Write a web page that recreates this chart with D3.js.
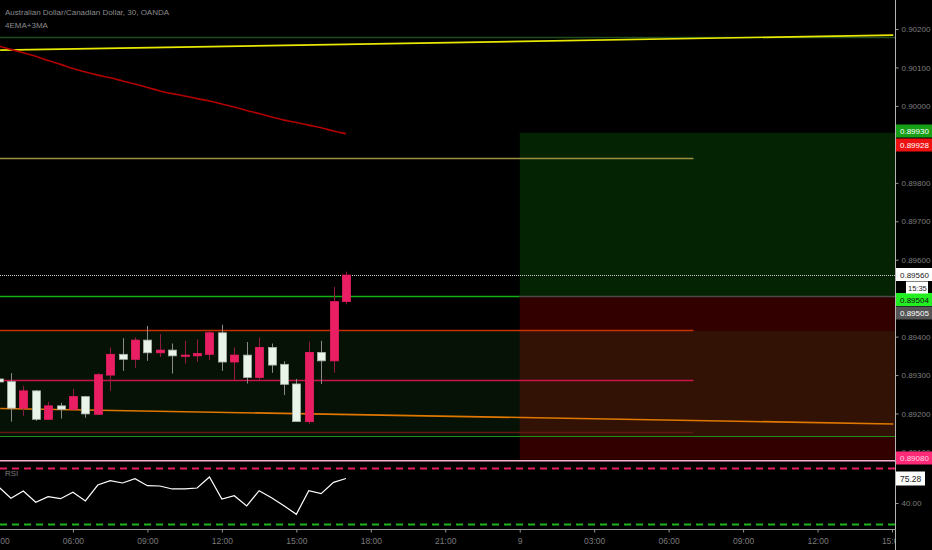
<!DOCTYPE html>
<html><head><meta charset="utf-8">
<script src="https://cdn.jsdelivr.net/npm/d3@7"></script>
<style>html,body{margin:0;padding:0;background:#000;overflow:hidden}</style>
</head><body><svg id="c" width="932" height="550"></svg>
<script>
// ---------- DATA ----------
const candleTimes = ["2018-08-08 03:00","2018-08-08 03:30","2018-08-08 04:00","2018-08-08 04:30","2018-08-08 05:00","2018-08-08 05:30","2018-08-08 06:00","2018-08-08 06:30","2018-08-08 07:00","2018-08-08 07:30","2018-08-08 08:00","2018-08-08 08:30","2018-08-08 09:00","2018-08-08 09:30","2018-08-08 10:00","2018-08-08 10:30","2018-08-08 11:00","2018-08-08 11:30","2018-08-08 12:00","2018-08-08 12:30","2018-08-08 13:00","2018-08-08 13:30","2018-08-08 14:00","2018-08-08 14:30","2018-08-08 15:00","2018-08-08 15:30","2018-08-08 16:00","2018-08-08 16:30","2018-08-08 17:00"];
const opens  = [0.89290,0.89283,0.89214,0.89259,0.89185,0.89220,0.89211,0.89244,0.89198,0.89300,0.89354,0.89341,0.89391,0.89358,0.89365,0.89350,0.89350,0.89354,0.89410,0.89334,0.89352,0.89294,0.89372,0.89328,0.89277,0.89179,0.89359,0.89337,0.89491];
const highs  = [0.89292,0.89305,0.89272,0.89261,0.89231,0.89228,0.89264,0.89246,0.89305,0.89372,0.89396,0.89398,0.89428,0.89407,0.89382,0.89389,0.89393,0.89415,0.89431,0.89372,0.89386,0.89398,0.89382,0.89336,0.89290,0.89387,0.89389,0.89529,0.89569];
const lows   = [0.89278,0.89179,0.89194,0.89181,0.89185,0.89187,0.89209,0.89189,0.89198,0.89259,0.89311,0.89319,0.89337,0.89347,0.89304,0.89330,0.89334,0.89339,0.89311,0.89287,0.89278,0.89287,0.89306,0.89248,0.89179,0.89173,0.89277,0.89306,0.89484];
const closes = [0.89282,0.89214,0.89259,0.89185,0.89220,0.89211,0.89244,0.89199,0.89301,0.89354,0.89341,0.89391,0.89358,0.89365,0.89350,0.89352,0.89356,0.89410,0.89334,0.89352,0.89294,0.89372,0.89326,0.89276,0.89179,0.89359,0.89337,0.89491,0.89560];
const rsiValues = [63.5,46.8,57.3,41.0,49.1,46.2,55.4,42.9,65.9,72.1,68.8,75.0,64.9,64.5,60.2,60.2,61.6,77.5,45.8,50.5,35.7,57.7,47.6,36.1,23.7,57.7,53.4,69.8,75.28];
const emaRed = [0.90156,0.90147,0.90138,0.90129,0.90118,0.90108,0.90097,0.90088,0.90080,0.90073,0.90065,0.90057,0.90048,0.90039,0.90032,0.90026,0.90019,0.90013,0.90005,0.89997,0.89988,0.89980,0.89971,0.89963,0.89957,0.89950,0.89943,0.89935,0.89928];
const yellowTimes = ["2018-08-08 03:04","2018-08-09 15:03"];
const yellowPrices = [0.90145,0.90184];
const orangeTimes = ["2018-08-08 03:04","2018-08-09 15:03"];
const orangePrices = [0.89213,0.89173];
const topGreenLevel = 0.90180;
const shortLevels = [0.89865,0.89417,0.89287,0.89152];   // rays ending at shortLevelEnd
const shortLevelEnd = "2018-08-09 07:00";
const zoneTop = 0.89415, zoneBottom = 0.89142;
const posStart = "2018-08-09 00:00";
const posTarget = 0.89930, posEntry = 0.89505, posStop = 0.89080;
const lastPrice = 0.89560;
const priceTicks = [0.902,0.901,0.900,0.899,0.898,0.897,0.896,0.895,0.894,0.893,0.892,0.891];
const rsiTicks = [40];
const rsiBands = [90,10];
const timeTicks = ["2018-08-08 03:00","2018-08-08 06:00","2018-08-08 09:00","2018-08-08 12:00","2018-08-08 15:00","2018-08-08 18:00","2018-08-08 21:00","2018-08-09 00:00","2018-08-09 03:00","2018-08-09 06:00","2018-08-09 09:00","2018-08-09 12:00","2018-08-09 15:00"];
const timeLabels = ["03:00","06:00","09:00","12:00","15:00","18:00","21:00","9","03:00","06:00","09:00","12:00","15:00"];
const priceTags = [
  {text:"0.89930", bg:"#17a017", fg:"#ffffff", yc:131},
  {text:"0.89928", bg:"#ee1111", fg:"#ffffff", yc:145},
  {text:"0.89560", bg:"#ffffff", fg:"#222222", yc:274.5},
  {text:"0.89504", bg:"#22ee22", fg:"#111111", yc:299.5},
  {text:"0.89505", bg:"#555555", fg:"#ffffff", yc:313},
  {text:"0.89080", bg:"#ff2a77", fg:"#ffd6e6", yc:458}
];
const countdown = "15:35";
const titleText = "Australian Dollar/Canadian Dollar, 30, OANDA";
const studyText = "4EMA+3MA";

// ---------- SETUP ----------
const parse = d3.timeParse("%Y-%m-%d %H:%M");
const svg = d3.select("#c");
const AX = 895; // right axis x
const PANE_BOTTOM = 460;
const x = d3.scaleTime()
  .domain([parse("2018-08-08 03:00"), parse("2018-08-09 15:00")])
  .range([-1.5, -1.5 + 36*24.82]);
const y = d3.scaleLinear().domain([0.891, 0.902]).range([452, 29]);
const yR = d3.scaleLinear().domain([40, 75.28]).range([503, 478.5]);

const candles = candleTimes.map((t,i)=>({t:parse(t), o:opens[i], h:highs[i], l:lows[i], c:closes[i], r:rsiValues[i], e:emaRed[i]}));

const defs = svg.append("defs");
defs.append("clipPath").attr("id","cp").append("rect").attr("x",0).attr("y",0).attr("width",AX).attr("height",PANE_BOTTOM);
defs.append("clipPath").attr("id","cr").append("rect").attr("x",0).attr("y",462).attr("width",AX).attr("height",66);
defs.append("clipPath").attr("id","ct").append("rect").attr("x",0).attr("y",529).attr("width",AX).attr("height",21);

svg.append("rect").attr("width",932).attr("height",550).attr("fill","#000");

const g = svg.append("g").attr("clip-path","url(#cp)");
const xEnd = AX;

// position tool
const px0 = x(parse(posStart));
g.append("rect").attr("x",px0).attr("y",y(posTarget)).attr("width",xEnd-px0).attr("height",y(posEntry)-y(posTarget)).attr("fill","#032303");
g.append("rect").attr("x",px0).attr("y",y(posEntry)).attr("width",xEnd-px0).attr("height",y(posStop)-y(posEntry)).attr("fill","#330000");
// zone
g.append("rect").attr("x",0).attr("y",y(zoneTop)).attr("width",xEnd).attr("height",y(zoneBottom)-y(zoneTop))
  .attr("fill","rgb(60,180,60)").attr("fill-opacity",0.1);

function hline(p, x1, x2, color, w, dash){
  const yy = Math.round(y(p))+0.5;
  const l = g.append("line").attr("x1",x1).attr("x2",x2).attr("y1",yy).attr("y2",yy).attr("stroke",color).attr("stroke-width",w);
  if(dash) l.attr("stroke-dasharray",dash);
  return l;
}
hline(topGreenLevel, 0, xEnd, "#1f4d1f", 1.5);
g.append("line").attr("x1",x(parse(yellowTimes[0]))).attr("x2",x(parse(yellowTimes[1])))
  .attr("y1",y(yellowPrices[0])).attr("y2",y(yellowPrices[1])).attr("stroke","#e8e800").attr("stroke-width",1.6);
g.append("path").datum(candles).attr("fill","none").attr("stroke","#b00000").attr("stroke-width",1.6)
  .attr("d", d3.line().x(d=>x(d.t)).y(d=>y(d.e)).curve(d3.curveMonotoneX));
const srEnd = x(parse(shortLevelEnd));
const srColors = ["#9a9040","#c83000","#c8144a","#5c1a10"];
shortLevels.forEach((p,i)=>hline(p,0,srEnd,srColors[i],1.5));
hline(zoneBottom, 0, xEnd, "#1f8f1f", 1.2);
g.append("line").attr("x1",x(parse(orangeTimes[0]))).attr("x2",x(parse(orangeTimes[1])))
  .attr("y1",y(orangePrices[0])).attr("y2",y(orangePrices[1])).attr("stroke","#e07800").attr("stroke-width",1.6);
hline(posEntry, 0, px0, "#12b012", 1.5);
hline(posEntry, px0, xEnd, "#4a4a4a", 1.5);
hline(lastPrice, 0, xEnd, "#c8c8c8", 1, "1,1");

// candles
const up = d=>d.c>=d.o;
g.selectAll("line.wick").data(candles).join("line").attr("class","wick")
  .attr("x1",d=>Math.round(x(d.t))+0.5).attr("x2",d=>Math.round(x(d.t))+0.5)
  .attr("y1",d=>y(d.h)).attr("y2",d=>y(d.l))
  .attr("stroke",d=>up(d)?"#8e1b40":"#8a8a8a").attr("stroke-width",1);
g.selectAll("rect.body").data(candles).join("rect").attr("class","body")
  .attr("x",d=>Math.round(x(d.t))-3.5).attr("width",8)
  .attr("y",d=>y(Math.max(d.o,d.c))).attr("height",d=>Math.max(1.2,Math.abs(y(d.o)-y(d.c))))
  .attr("fill",d=>up(d)?"#e91e63":"#eaf5ea")
  .attr("stroke",d=>up(d)?"#e91e63":"#a8b0a8").attr("stroke-width",0.8);

svg.append("line").attr("x1",0).attr("x2",AX).attr("y1",460.75).attr("y2",460.75).attr("stroke","#f4b0cc").attr("stroke-width",1.5);

// ---------- RSI ----------
const fontF = "Liberation Sans, Arial, sans-serif";
const gr = svg.append("g").attr("clip-path","url(#cr)");
gr.selectAll("line.band").data(rsiBands).join("line").attr("class","band")
  .attr("x1",0).attr("x2",AX).attr("y1",d=>Math.round(yR(d))+0.5).attr("y2",d=>Math.round(yR(d))+0.5)
  .attr("stroke",(d,i)=>i===0?"#e91e63":"#1db31d").attr("stroke-width",2).attr("stroke-dasharray","7,5");
gr.append("path").datum(candles).attr("fill","none").attr("stroke","#ffffff").attr("stroke-width",1.2)
  .attr("d", d3.line().x(d=>x(d.t)).y(d=>yR(d.r)));
svg.append("text").attr("x",5).attr("y",476).attr("fill","#7a7a7a").attr("font-family",fontF).attr("font-size",8).text("RSI");

// ---------- AXES ----------
svg.append("line").attr("x1",0).attr("x2",AX).attr("y1",529.5).attr("y2",529.5).attr("stroke","#9a9a9a").attr("stroke-width",1);
const gt = svg.append("g").attr("clip-path","url(#ct)").append("g").attr("transform","translate(0,529.5)")
  .call(d3.axisBottom(x).tickValues(timeTicks.map(parse)).tickFormat((d,i)=>timeLabels[i]).tickSize(3).tickPadding(5));
gt.select(".domain").remove();
gt.selectAll("line").attr("stroke","#9a9a9a");
gt.selectAll("text").attr("fill","#7a7a7a").attr("font-family",fontF).attr("font-size",8.5);

svg.append("line").attr("x1",AX+0.5).attr("x2",AX+0.5).attr("y1",0).attr("y2",550).attr("stroke","#b4b4b4").attr("stroke-width",1);
const gp = svg.append("g").attr("transform",`translate(${AX+0.5},0)`)
  .call(d3.axisRight(y).tickValues(priceTicks).tickFormat(d3.format(".5f")).tickSize(3).tickPadding(3));
gp.select(".domain").remove();
gp.selectAll("line").attr("stroke","#9a9a9a");
gp.selectAll("text").attr("fill","#7e7e7e").attr("font-family",fontF).attr("font-size",8);

const ga = svg.append("g").attr("transform",`translate(${AX+0.5},0)`)
  .call(d3.axisRight(yR).tickValues(rsiTicks).tickFormat(d3.format(".2f")).tickSize(3).tickPadding(3));
ga.select(".domain").remove();
ga.selectAll("line").attr("stroke","#9a9a9a");
ga.selectAll("text").attr("fill","#7e7e7e").attr("font-family",fontF).attr("font-size",8);

priceTags.forEach(t=>{
  svg.append("rect").attr("x",AX+1).attr("y",t.yc-6.5).attr("width",36).attr("height",13).attr("fill",t.bg);
  svg.append("text").attr("x",AX+5).attr("y",t.yc+3).attr("fill",t.fg).attr("font-family",fontF).attr("font-size",8).text(t.text);
});
svg.append("rect").attr("x",AX+11).attr("y",281.5).attr("width",22).attr("height",12).attr("fill","#ffffff");
svg.append("text").attr("x",AX+13).attr("y",290.5).attr("fill","#222").attr("font-family",fontF).attr("font-size",7.5).text(countdown);
const rv = rsiValues[rsiValues.length-1];
svg.append("rect").attr("x",AX+1).attr("y",yR(rv)-7).attr("width",29).attr("height",14).attr("fill","#ffffff");
svg.append("text").attr("x",AX+5).attr("y",yR(rv)+3).attr("fill","#222").attr("font-family",fontF).attr("font-size",8.5).text(d3.format(".2f")(rv));

svg.append("text").attr("x",5).attr("y",15).attr("fill","#8a8a8a").attr("font-family",fontF).attr("font-size",8).text(titleText);
svg.append("text").attr("x",5).attr("y",28).attr("fill","#8a8a8a").attr("font-family",fontF).attr("font-size",8).text(studyText);
</script></body></html>
